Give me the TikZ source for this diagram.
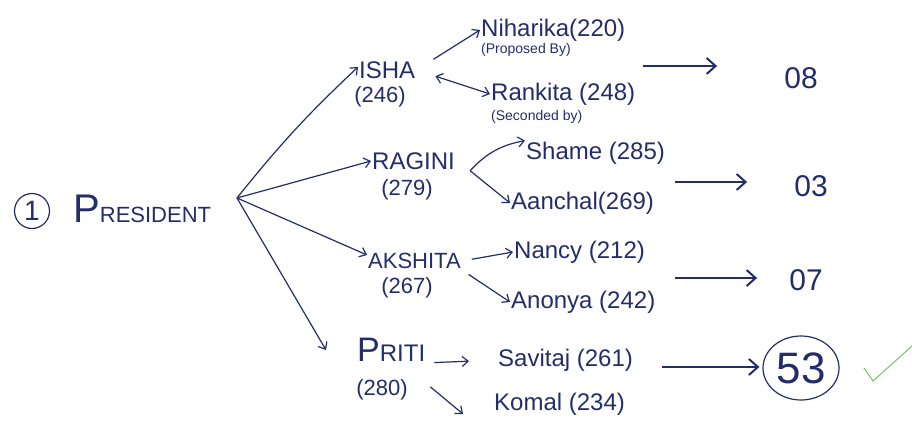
\documentclass[tikz,border=0pt]{standalone}
\usepackage{fontspec}
\setmainfont{Liberation Sans}
\usetikzlibrary{arrows.meta,positioning,shapes.geometric}

\definecolor{ink}{RGB}{35,45,105}
\definecolor{tick}{RGB}{125,190,115}
\newcommand{\fsz}[1]{\fontsize{#1}{#1}\selectfont}

\begin{document}
\begin{tikzpicture}[x=1pt,y=-1pt,
  every node/.style={text=ink,inner sep=1pt},
  >={Straight Barb[length=6pt,width=10pt]},
  head/.style={font={\fsz{24}},anchor=west},
  num/.style={font={\fsz{22}}},
  kid/.style={font={\fsz{24}},anchor=west},
  note/.style={font={\fsz{14}},anchor=west},
  total/.style={font={\fsz{30}}},
  link/.style={draw=ink,line width=1.2pt,->},
  bigarrow/.style={draw=ink,line width=2pt,-{Straight Barb[length=9pt,width=16pt]}}]

  \useasboundingbox (0,0) rectangle (912,428);

  \node[circle,draw=ink,line width=1.2pt,minimum size=35pt,inner sep=0pt,font={\fsz{28}}] (one) at (32,211) {1};
  \node[anchor=base west,font={\fsz{22}}] (pres) at (72,222) {{\fsz{40}P}RESIDENT};
  \coordinate (fan) at (237,198);

  % members
  \node[head] (isha) at (358,70) {ISHA};
  \node[num] (ishanum) at (380,97) {(246)};
  \node[head] (ragini) at (371,161) {RAGINI};
  \node[num] (raginum) at (407,190) {(279)};
  \node[head,font={\fsz{22}}] (akshita) at (367,261) {AKSHITA};
  \node[num] (akshnum) at (407,288) {(267)};
  \node[head] (priti) at (356,350) {{\fsz{34}P}RITI};
  \node[num] (pritinum) at (382,390) {(280)};

  % proposers and seconders
  \node[kid] (niharika) at (480,30) {Niharika(220)};
  \node[note] (proposed) at (480,50) {(Proposed By)};
  \node[kid] (rankita) at (490,94) {Rankita (248)};
  \node[note] (seconded) at (490,117) {(Seconded by)};
  \node[kid] (shame) at (525,153) {Shame (285)};
  \node[kid] (aanchal) at (510,203) {Aanchal(269)};
  \node[kid] (nancy) at (513,252) {Nancy (212)};
  \node[kid] (anonya) at (510,302) {Anonya (242)};
  \node[kid] (savitaj) at (497,360) {Savitaj (261)};
  \node[kid] (komal) at (493,404) {Komal (234)};

  % totals
  \node[total] (tot1) at (801,78) {08};
  \node[total] (tot2) at (811,186) {03};
  \node[total] (tot3) at (806,280) {07};
  \node[ellipse,draw=ink,line width=1.2pt,minimum width=76pt,minimum height=64pt,inner sep=0pt,font={\fsz{44}}] (tot4) at (801,368) {53};

  \coordinate (from1) at (643,66);
  \coordinate (from2) at (675,182);
  \coordinate (from3) at (675,278);
  \coordinate (from4) at (662,367);

  \draw[link] (fan) to[bend left=4] ([yshift=3pt]isha.west);
  \draw[link] (fan) -- (ragini.west);
  \draw[link] (fan) -- ([yshift=6pt]akshita.west);
  \draw[link] (fan) -- ([xshift=-30pt]priti.west);

  \draw[link,shorten <=20pt] (isha.east) -- (niharika.west);
  \draw[link,<->,shorten <=20pt] (isha.east) -- (rankita.west);
  \coordinate (split) at ([xshift=14pt]ragini.south east);
  \draw[link] (split) to[bend left=18] (shame.north west);
  \draw[link] (split) -- (aanchal.west);
  \draw[link,shorten <=10pt] (akshita.east) -- (nancy.west);
  \draw[link,shorten <=8pt] (akshita.south east) -- (anonya.west);
  \draw[link,shorten <=8pt,shorten >=28pt] (priti.south east) -- (savitaj.west);
  \draw[link] ([shift={(4pt,-24pt)}]priti.south east) -- ([shift={(-30pt,-10pt)}]komal.west);

  \draw[bigarrow,shorten >=66pt] (from1) -- (from1 -| tot1.west);
  \draw[bigarrow,shorten >=46pt] (from2) -- (from2 -| tot2.west);
  \draw[bigarrow,shorten >=31pt] (from3) -- (from3 -| tot3.west);
  \draw[bigarrow,shorten >=3pt] (from4) -- (from4 -| tot4.west);

  % tick
  \draw[tick,line width=1pt] (864,368) -- (873,381) -- (912,346);

\end{tikzpicture}
\end{document}
